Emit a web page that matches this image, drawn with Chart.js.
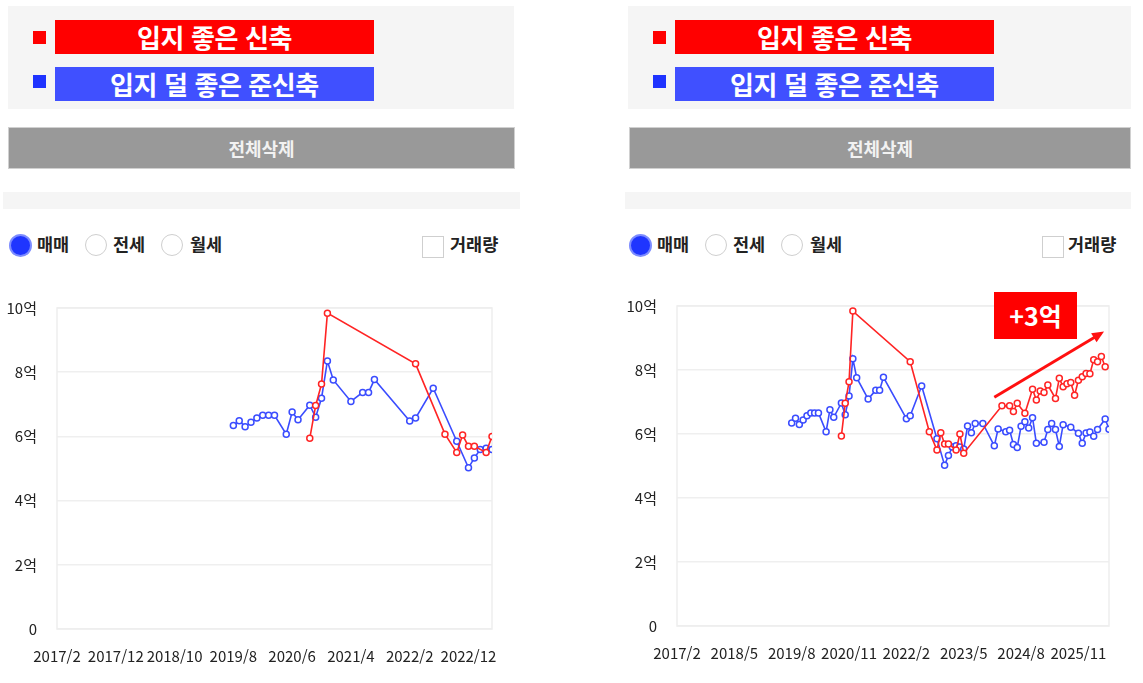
<!DOCTYPE html>
<html lang="ko">
<head>
<meta charset="utf-8">
<title>입지 좋은 신축 vs 입지 덜 좋은 준신축</title>
<script src="https://cdn.jsdelivr.net/npm/chart.js@4.4.1/dist/chart.umd.min.js"></script>
<style>
  html, body { margin: 0; padding: 0; background: #fff; }
  body {
    width: 1143px; height: 683px; position: relative; overflow: hidden;
    font-family: "Noto Sans CJK KR", "Noto Sans", sans-serif; color: #222;
  }
  .panel { position: absolute; top: 0; width: 520px; height: 683px; }
  .legend-box { position: absolute; left: 8px; top: 6px; width: 506px; height: 103px; background: #f5f5f5; }
  .swatch { position: absolute; left: 33px; width: 13px; height: 13px; }
  .bar {
    position: absolute; left: 55px; width: 319px; height: 34px; line-height: 34px;
    color: #fff; font-weight: 700; font-size: 26px; text-align: center; letter-spacing: -0.4px;
  }
  .red { background: #ff0000; }
  .blue { background: #4050ff; }
  .blue-sq { background: #1f33ff; }
  .btn-clear {
    position: absolute; left: 8px; top: 127px; width: 505px; height: 40px; line-height: 40px;
    background: #999; border: 1px solid #d0d0d0; color: #f2f2f2;
    font-size: 18px; font-weight: 700; text-align: center;
  }
  .band { position: absolute; left: 3px; top: 192px; width: 517px; height: 17px; background: #f5f5f5; }
  #panelRight .legend-box { width: 503px; }
  #panelRight .btn-clear { left: 9px; width: 500px; }
  #panelRight .band { left: 5px; width: 506px; }
  .radio {
    position: absolute; top: 234px; width: 20px; height: 20px; border-radius: 50%;
    border: 1.5px solid #cfcfcf; background: #fff;
  }
  .radio.on { background: #1f35ff; border: 2px solid #7d8cff; width: 19px; height: 19px; }
  .opt { position: absolute; top: 231px; font-size: 17.5px; font-weight: 700; line-height: 26px; }
  .check { position: absolute; left: 422px; top: 236px; width: 20px; height: 20px; border: 1.5px solid #cfcfcf; background: #fff; }
  .chart-wrap { position: absolute; left: 0; }
  .badge {
    position: absolute; left: 374px; top: 292px; width: 83px; height: 47px; line-height: 47px;
    background: #ff0000; color: #fff; font-size: 25px; font-weight: 700; text-align: center;
  }
</style>
</head>
<body>

<div class="panel" id="panelLeft" style="left:0">
  <div class="legend-box"></div>
  <div class="swatch red" style="top:31px"></div>
  <div class="bar red" style="top:20px">입지 좋은 신축</div>
  <div class="swatch blue-sq" style="top:75px"></div>
  <div class="bar blue" style="top:67px">입지 덜 좋은 준신축</div>
  <div class="btn-clear">전체삭제</div>
  <div class="band"></div>
  <div class="radio on" style="left:9px"></div><div class="opt" style="left:37px">매매</div>
  <div class="radio" style="left:85px"></div><div class="opt" style="left:113px">전세</div>
  <div class="radio" style="left:161px"></div><div class="opt" style="left:190px">월세</div>
  <div class="check"></div><div class="opt" style="left:450px">거래량</div>
  <div class="chart-wrap" style="top:290px;width:500px;height:385px"><canvas id="chartLeft"></canvas></div>
</div>

<div class="panel" id="panelRight" style="left:620px">
  <div class="legend-box"></div>
  <div class="swatch red" style="top:31px"></div>
  <div class="bar red" style="top:20px">입지 좋은 신축</div>
  <div class="swatch blue-sq" style="top:75px"></div>
  <div class="bar blue" style="top:67px">입지 덜 좋은 준신축</div>
  <div class="btn-clear">전체삭제</div>
  <div class="band"></div>
  <div class="radio on" style="left:9px"></div><div class="opt" style="left:37px">매매</div>
  <div class="radio" style="left:85px"></div><div class="opt" style="left:113px">전세</div>
  <div class="radio" style="left:161px"></div><div class="opt" style="left:190px">월세</div>
  <div class="check"></div><div class="opt" style="left:448px">거래량</div>
  <div class="chart-wrap" style="top:288px;width:497px;height:384px"><canvas id="chartRight"></canvas></div>
  <div class="badge">+3억</div>
</div>

<script>
// 입지 좋은 신축 (매매, 억원)
const newDates = [
  "2020/9", "2020/10", "2020/11", "2020/12", "2022/3", "2022/8", "2022/10", "2022/11",
  "2022/12", "2023/1", "2023/3", "2023/4", "2023/5",
  "2024/3", "2024/5", "2024/6", "2024/7", "2024/9", "2024/11", "2024/12", "2025/1",
  "2025/2", "2025/3", "2025/5", "2025/6", "2025/7", "2025/8", "2025/9", "2025/10",
  "2025/11", "2025/12", "2026/1", "2026/2", "2026/3", "2026/4", "2026/5", "2026/6",
];
const newValues = [
  5.94, 6.96, 7.63, 9.84, 8.26, 6.07, 5.50, 6.04,
  5.69, 5.69, 5.50, 6.00, 5.40,
  6.88, 6.88, 6.70, 6.96, 6.65, 7.40, 7.06, 7.34,
  7.30, 7.53, 7.11, 7.74, 7.48, 7.57, 7.61, 7.21,
  7.68, 7.79, 7.89, 7.88, 8.32, 8.26, 8.42, 8.10,
];

// 입지 덜 좋은 준신축 (매매, 억원)
const oldDates = [
  "2019/8", "2019/9", "2019/10", "2019/11", "2019/12", "2020/1", "2020/2", "2020/3",
  "2020/5", "2020/6", "2020/7", "2020/9", "2020/10", "2020/11", "2020/12", "2021/1",
  "2021/4", "2021/6", "2021/7", "2021/8", "2022/2", "2022/3", "2022/6", "2022/10",
  "2022/12", "2023/1", "2023/2", "2023/3", "2023/4", "2023/5", "2023/6", "2023/7",
  "2023/8", "2023/10", "2024/1", "2024/2", "2024/4", "2024/5", "2024/6", "2024/7",
  "2024/8", "2024/9", "2024/10", "2024/11", "2024/12", "2025/2", "2025/3", "2025/4",
  "2025/5", "2025/6", "2025/7", "2025/9", "2025/11", "2025/12", "2026/1", "2026/2",
  "2026/3", "2026/4", "2026/6", "2026/7",
];
const oldValues = [
  6.34, 6.49, 6.30, 6.44, 6.57, 6.66, 6.66, 6.66,
  6.07, 6.76, 6.52, 6.97, 6.60, 7.19, 8.35, 7.76,
  7.09, 7.37, 7.37, 7.77, 6.48, 6.57, 7.50, 5.85,
  5.02, 5.33, 5.59, 5.63, 5.59, 5.53, 6.25, 6.04,
  6.33, 6.33, 5.63, 6.16, 6.07, 6.12, 5.67, 5.58,
  6.24, 6.38, 6.19, 6.51, 5.71, 5.74, 6.14, 6.33,
  6.14, 5.61, 6.29, 6.21, 6.02, 5.71, 6.03, 6.06,
  5.93, 6.14, 6.47, 6.15,
];

// 축 범위 (시작월 2017/2)
const startMonth = "2017/2";
const leftEndMonth = "2023/4";
const rightEndMonth = "2026/7";
const leftTickStep = 10;
const rightTickStep = 15;
const yTicks = [0, 2, 4, 6, 8, 10];

// 상승 화살표 (오른쪽 차트, 월 인덱스 / 억)
const trendFrom = [83, 7.15];
const trendTo = [111.7, 9.2];

const RED = "#ff2424";
const BLUE = "#3a4cff";
const CLEAR = "rgba(0,0,0,0)";

function monthIndex(s) {
  const [y, m] = s.split("/").map(Number);
  const [y0, m0] = startMonth.split("/").map(Number);
  return (y - y0) * 12 + (m - m0);
}

function monthLabel(i) {
  const [y0, m0] = startMonth.split("/").map(Number);
  const t = m0 - 1 + i;
  return (y0 + Math.floor(t / 12)) + "/" + ((t % 12) + 1);
}

function toPoints(dates, values, maxIdx) {
  return dates
    .map((d, i) => ({ x: monthIndex(d), y: values[i] }))
    .filter((p) => p.x <= maxIdx);
}

// 차트 영역 테두리
const framePlugin = {
  id: "frame",
  beforeDatasetsDraw(chart) {
    const { ctx, chartArea } = chart;
    ctx.save();
    ctx.strokeStyle = "#eeeeee";
    ctx.lineWidth = 1.5;
    ctx.strokeRect(chartArea.left, chartArea.top, chartArea.width, chartArea.height);
    ctx.restore();
  },
};

const arrowPlugin = {
  id: "trendArrow",
  afterDatasetsDraw(chart, args, opts) {
    if (!opts || !opts.from) return;
    const { ctx, scales } = chart;
    const x1 = scales.x.getPixelForValue(opts.from[0]);
    const y1 = scales.y.getPixelForValue(opts.from[1]);
    const x2 = scales.x.getPixelForValue(opts.to[0]);
    const y2 = scales.y.getPixelForValue(opts.to[1]);
    const ang = Math.atan2(y2 - y1, x2 - x1);
    const head = 13;
    ctx.save();
    ctx.strokeStyle = "#ff1010";
    ctx.fillStyle = "#ff1010";
    ctx.lineWidth = 3;
    ctx.beginPath();
    ctx.moveTo(x1, y1);
    ctx.lineTo(x2 - Math.cos(ang) * head * 0.8, y2 - Math.sin(ang) * head * 0.8);
    ctx.stroke();
    ctx.beginPath();
    ctx.moveTo(x2, y2);
    ctx.lineTo(x2 - head * Math.cos(ang - 0.42), y2 - head * Math.sin(ang - 0.42));
    ctx.lineTo(x2 - head * Math.cos(ang + 0.42), y2 - head * Math.sin(ang + 0.42));
    ctx.closePath();
    ctx.fill();
    ctx.restore();
  },
};

function seriesStyle(color) {
  return {
    borderColor: color,
    backgroundColor: "#fff",
    pointBackgroundColor: "#fff",
    pointBorderColor: color,
    pointRadius: 3,
    pointBorderWidth: 1.5,
    borderWidth: 1.6,
    tension: 0,
    fill: false,
  };
}

function generarGrafica(id, endMonth, tickStep, arrow) {
  const maxIdx = monthIndex(endMonth);
  const tickFont = { family: "'Noto Sans CJK KR', sans-serif", size: 15 };
  return new Chart(document.getElementById(id), {
    type: "line",
    data: {
      datasets: [
        { label: "입지 좋은 신축", data: toPoints(newDates, newValues, maxIdx), ...seriesStyle(RED) },
        { label: "입지 덜 좋은 준신축", data: toPoints(oldDates, oldValues, maxIdx), ...seriesStyle(BLUE) },
      ],
    },
    options: {
      responsive: true,
      maintainAspectRatio: false,
      animation: false,
      layout: { padding: { top: 18, right: 8, left: 0, bottom: 0 } },
      plugins: {
        legend: { display: false },
        tooltip: { enabled: false },
        trendArrow: arrow || {},
      },
      scales: {
        x: {
          type: "linear",
          min: 0,
          max: maxIdx,
          // 눈금 간격은 투명한 tick 길이로 확보 (ticks.padding은 여백을 키움)
          grid: { display: true, color: CLEAR, tickColor: CLEAR, drawOnChartArea: false, drawTicks: true, tickLength: 18 },
          border: { display: false },
          ticks: {
            stepSize: tickStep,
            includeBounds: false,
            autoSkip: false,
            maxRotation: 0,
            padding: 0,
            color: "#222",
            font: tickFont,
            callback: (v) => monthLabel(v),
          },
          afterFit: (s) => { s.height = 46; },
        },
        y: {
          min: yTicks[0],
          max: yTicks[yTicks.length - 1],
          grid: { color: "#efefef", lineWidth: 1.5, tickColor: CLEAR, drawTicks: true, tickLength: 20 },
          border: { display: false },
          ticks: {
            stepSize: yTicks[1] - yTicks[0],
            padding: 0,
            color: "#222",
            font: tickFont,
            callback: (v) => (v === 0 ? "0" : v + "억"),
          },
          afterFit: (s) => { s.width = 57; },
        },
      },
    },
    plugins: [framePlugin, arrowPlugin],
  });
}

generarGrafica("chartLeft", leftEndMonth, leftTickStep, null);
generarGrafica("chartRight", rightEndMonth, rightTickStep, { from: trendFrom, to: trendTo });
</script>
</body>
</html>
